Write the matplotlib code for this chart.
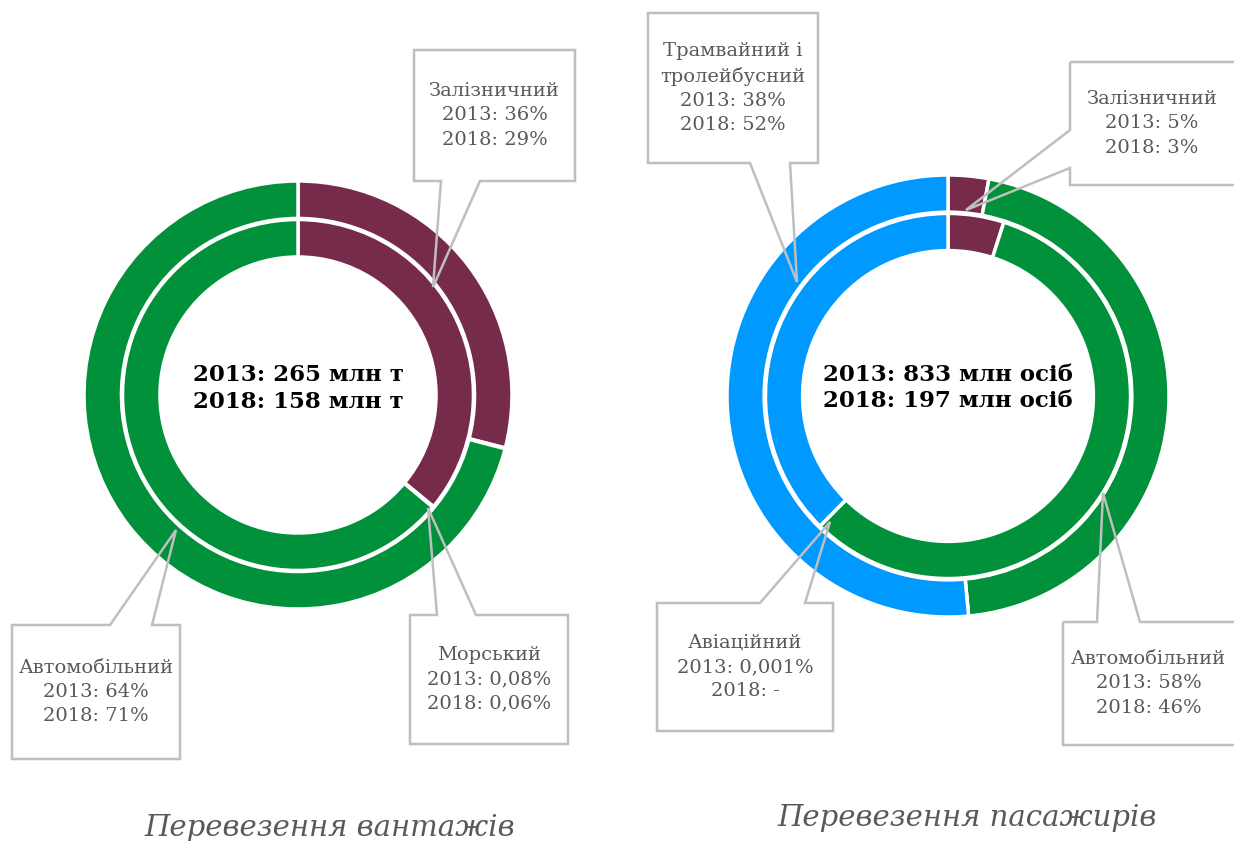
import matplotlib.pyplot as plt
from matplotlib.patches import Polygon

W, H = 1234, 841

# freight (left): outer ring 2018, inner ring 2013
freight_names = ["Залізничний", "Морський", "Автомобільний"]
freight_2013 = [36, 0.08, 64]
freight_2018 = [29, 0.06, 71]
freight_colors = ["#772B4B", "#5B9BD5", "#00913A"]

# passengers (right)
pass_names = ["Залізничний", "Автомобільний", "Авіаційний", "Трамвайний і\nтролейбусний"]
pass_2013 = [5, 58, 0.001, 38]
pass_2018 = [3, 46, 0, 52]
pass_colors = ["#772B4B", "#00913A", "#ED7D31", "#0099FF"]

freight_total = "2013: 265 млн т\n2018: 158 млн т"
pass_total = "2013: 833 млн осіб\n2018: 197 млн осіб"

freight_labels = ["Залізничний\n2013: 36%\n2018: 29%",
                  "Морський\n2013: 0,08%\n2018: 0,06%",
                  "Автомобільний\n2013: 64%\n2018: 71%"]
pass_labels = ["Залізничний\n2013: 5%\n2018: 3%",
               "Автомобільний\n2013: 58%\n2018: 46%",
               "Авіаційний\n2013: 0,001%\n2018: -",
               "Трамвайний і\nтролейбусний\n2013: 38%\n2018: 52%"]

fig = plt.figure(figsize=(W / 100, H / 100), dpi=100)
fig.patch.set_facecolor("white")

GRAY = "#595959"
EDGE = "#BFBFBF"


def px(x, y):
    return x / W, 1 - y / H


def donut(cx, cy, r, inner_frac, width_frac, v_out, v_in, colors):
    ax = fig.add_axes([(cx - r) / W, 1 - (cy + r) / H, 2 * r / W, 2 * r / H])
    ax.axis("off")
    wp = dict(edgecolor="white", linewidth=2.5)
    ax.pie(v_out, radius=1, colors=colors, startangle=90, counterclock=False,
           wedgeprops=dict(width=width_frac, **wp))
    ax.pie(v_in, radius=inner_frac, colors=colors, startangle=90, counterclock=False,
           wedgeprops=dict(width=width_frac, **wp))
    ax.set_xlim(-1, 1)
    ax.set_ylim(-1, 1)
    return ax


axl = donut(298, 395, 214, 0.82, 0.175, freight_2018, freight_2013, freight_colors)
axl.text(0, 0.03, freight_total, ha="center", va="center", fontsize=16.5,
         fontweight="bold", family="DejaVu Serif", linespacing=1.25)
axr = donut(948, 396, 221, 0.826, 0.168, pass_2018, pass_2013, pass_colors)
axr.text(0, 0.035, pass_total, ha="center", va="center", fontsize=16.5,
         fontweight="bold", family="DejaVu Serif", linespacing=1.25)


def callout(box, side, b1, b2, tip, label):
    x0, y0, x1, y1 = box
    if side == "bottom":
        pts = [(x0, y0), (x1, y0), (x1, y1), (b2, y1), tip, (b1, y1), (x0, y1)]
    elif side == "top":
        pts = [(x0, y0), (b1, y0), tip, (b2, y0), (x1, y0), (x1, y1), (x0, y1)]
    else:  # left
        pts = [(x0, y0), (x1, y0), (x1, y1), (x0, y1), (x0, b2), tip, (x0, b1)]
    poly = Polygon([px(*p) for p in pts], closed=True, fill=False,
                   edgecolor=EDGE, linewidth=1.8, transform=fig.transFigure)
    fig.add_artist(poly)
    tx, ty = px((x0 + min(x1, W)) / 2, (y0 + y1) / 2)
    fig.text(tx, ty, label, ha="center", va="center", color=GRAY,
             fontsize=14, family="DejaVu Serif", linespacing=1.45)


callout((414, 50, 575, 181), "bottom", 441, 480, (433, 287), freight_labels[0])
callout((410, 615, 568, 744), "top", 437, 476, (428, 508), freight_labels[1])
callout((12, 625, 180, 759), "top", 110, 152, (176, 530), freight_labels[2])

callout((1070, 62, 1245, 185), "left", 130, 168, (966, 210), pass_labels[0])
callout((1063, 622, 1245, 745), "top", 1097, 1140, (1103, 493), pass_labels[1])
callout((657, 603, 833, 731), "top", 760, 805, (830, 522), pass_labels[2])
callout((648, 13, 818, 163), "bottom", 750, 790, (797, 282), pass_labels[3])

fig.text(*px(330, 828), "Перевезення вантажів", ha="center", va="center",
         fontsize=21, style="italic", color=GRAY, family="DejaVu Serif")
fig.text(*px(967, 818), "Перевезення пасажирів", ha="center", va="center",
         fontsize=21, style="italic", color=GRAY, family="DejaVu Serif")

fig.savefig("out.png", dpi=100, facecolor="white")
